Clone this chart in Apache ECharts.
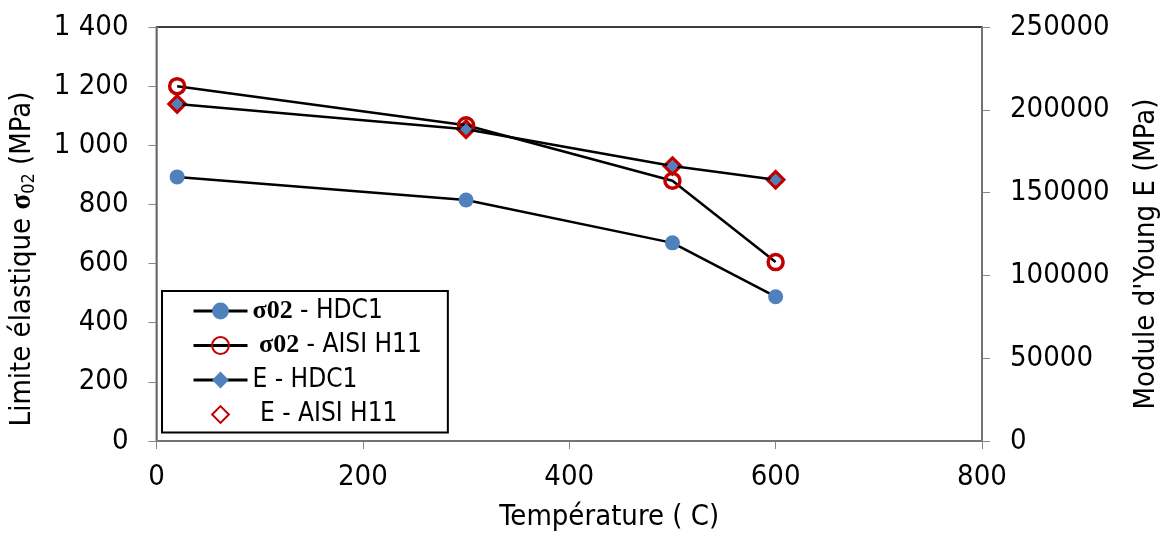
<!DOCTYPE html>
<html>
<head>
<meta charset="utf-8">
<script src="https://cdn.jsdelivr.net/npm/echarts@6/dist/echarts.min.js"></script>
<style>
  html, body { margin: 0; padding: 0; background: #fff; }
  #chart { width: 1169px; height: 537px; }
</style>
</head>
<body>
<div id="chart"></div>
<script>
const temperatures = [20, 300, 500, 600]
const sigmaHdc1 = [893, 815, 670, 488]
const sigmaH11 = [1200, 1068, 880, 605]
const youngHdc1 = [203500, 188200, 166000, 157800]
const youngH11 = [203500, 188200, 166000, 157800]
const seriesNames = ['σ02 - HDC1', 'σ02 - AISI H11', 'E - HDC1', 'E - AISI H11']

const narrow = "'Liberation Sans Narrow', 'DejaVu Sans Condensed', sans-serif"
const axisGray = '#868686'

const pairs = vals => temperatures.map((t, i) => [t, vals[i]])

const chart = echarts.init(document.getElementById('chart'))

const option = {
  animation: false,
  backgroundColor: '#fff',
  grid: {
    left: 155,
    right: 184,
    top: 27,
    bottom: 95,
    show: true,
    borderColor: '#000',
    borderWidth: 1.5,
  },
  legend: {
    orient: 'vertical',
    left: 162,
    top: 291,
    padding: [7, 26, 5, 30],
    itemWidth: 54,
    itemHeight: 21,
    itemGap: 8.5,
    borderColor: '#000',
    borderWidth: 2,
    borderRadius: 0,
    backgroundColor: '#fff',
    lineStyle: { width: 3, color: '#000' },
    data: [
      { name: seriesNames[0] },
      { name: seriesNames[1] },
      { name: seriesNames[2] },
      { name: seriesNames[3], lineStyle: { width: 0, opacity: 0 } },
    ],
    formatter: name => {
      const parts = name.split(' - ')
      if (parts[0] === 'σ02') return '{b|' + (name.includes('H11') ? ' ' : '') + 'σ02}{n| - ' + parts[1] + '}'
      return '{n|' + (name.includes('H11') ? ' ' : '') + parts[0] + ' - ' + parts[1] + '}'
    },
    textStyle: {
      rich: {
        b: { fontFamily: "'Liberation Serif', serif", fontWeight: 'bold', fontSize: 26, color: '#000', lineHeight: 28 },
        n: { fontFamily: narrow, fontSize: 26, color: '#000', lineHeight: 28 },
      },
    },
  },
  xAxis: {
    type: 'value',
    min: 0,
    max: 800,
    interval: 200,
    name: 'Température ( C)',
    nameLocation: 'middle',
    nameGap: 62,
    nameTextStyle: { fontFamily: narrow, fontSize: 29, color: '#000', padding: [0, 0, 0, 80] },
    axisLine: { lineStyle: { color: axisGray, width: 1.5 } },
    axisTick: { show: true, inside: false, length: 8, lineStyle: { color: axisGray } },
    axisLabel: { fontFamily: narrow, fontSize: 29, color: '#000', margin: 22 },
    splitLine: { show: false },
  },
  yAxis: [
    {
      type: 'value',
      min: 0,
      max: 1400,
      interval: 200,
      position: 'left',
      name: '{a|Limite élastique }{s|σ}{sub|02}{a| (MPa)}',
      nameLocation: 'middle',
      nameRotate: 90,
      nameGap: 118,
      nameTextStyle: {
        padding: [0, 50, 0, 0],
        rich: {
          a: { fontFamily: narrow, fontSize: 29, color: '#000', lineHeight: 32 },
          s: { fontFamily: "'Liberation Serif', serif", fontWeight: 'bold', fontSize: 29, color: '#000', lineHeight: 32 },
          sub: { fontFamily: narrow, fontSize: 18, color: '#000', lineHeight: 18, verticalAlign: 'bottom' },
        },
      },
      axisLine: { show: true, lineStyle: { color: axisGray, width: 1.5 } },
      axisTick: { show: true, inside: false, length: 8, lineStyle: { color: axisGray } },
      axisLabel: {
        fontFamily: narrow,
        fontSize: 29,
        color: '#000',
        margin: 28,
        formatter: v => String(v).replace(/\B(?=(\d{3})+(?!\d))/g, ' '),
      },
      splitLine: { show: false },
    },
    {
      type: 'value',
      min: 0,
      max: 250000,
      interval: 50000,
      position: 'right',
      name: "Module d'Young E (MPa)",
      nameLocation: 'middle',
      nameRotate: 90,
      nameGap: 150,
      nameTextStyle: { fontFamily: narrow, fontSize: 29, color: '#000', padding: [0, 40, 0, 0] },
      axisLine: { show: true, lineStyle: { color: axisGray, width: 1.5 } },
      axisTick: { show: true, inside: false, length: 8, lineStyle: { color: axisGray } },
      axisLabel: { fontFamily: narrow, fontSize: 29, color: '#000', margin: 28, formatter: v => String(v) },
      splitLine: { show: false },
    },
  ],
  series: [
    {
      name: seriesNames[0],
      type: 'line',
      yAxisIndex: 0,
      data: pairs(sigmaHdc1),
      symbol: 'circle',
      symbolSize: 15,
      itemStyle: { color: '#4F81BD' },
      lineStyle: { color: '#000', width: 2.5 },
      z: 3,
    },
    {
      name: seriesNames[1],
      type: 'line',
      yAxisIndex: 0,
      data: pairs(sigmaH11),
      symbol: 'circle',
      symbolSize: 15,
      itemStyle: { color: 'rgba(255,255,255,0)', borderColor: '#C00000', borderWidth: 3.5 },
      lineStyle: { color: '#000', width: 2.5 },
      z: 3,
    },
    {
      name: seriesNames[2],
      type: 'line',
      yAxisIndex: 1,
      data: pairs(youngHdc1),
      symbol: 'diamond',
      symbolSize: 12,
      itemStyle: { color: '#4F81BD' },
      lineStyle: { color: '#000', width: 2.5 },
      z: 4,
    },
    {
      name: seriesNames[3],
      type: 'line',
      yAxisIndex: 1,
      data: pairs(youngH11),
      symbol: 'diamond',
      symbolSize: 16,
      itemStyle: { color: 'rgba(255,255,255,0)', borderColor: '#C00000', borderWidth: 3.5 },
      lineStyle: { width: 0 },
      z: 2,
    },
  ],
}

chart.setOption(option)
</script>
</body>
</html>
